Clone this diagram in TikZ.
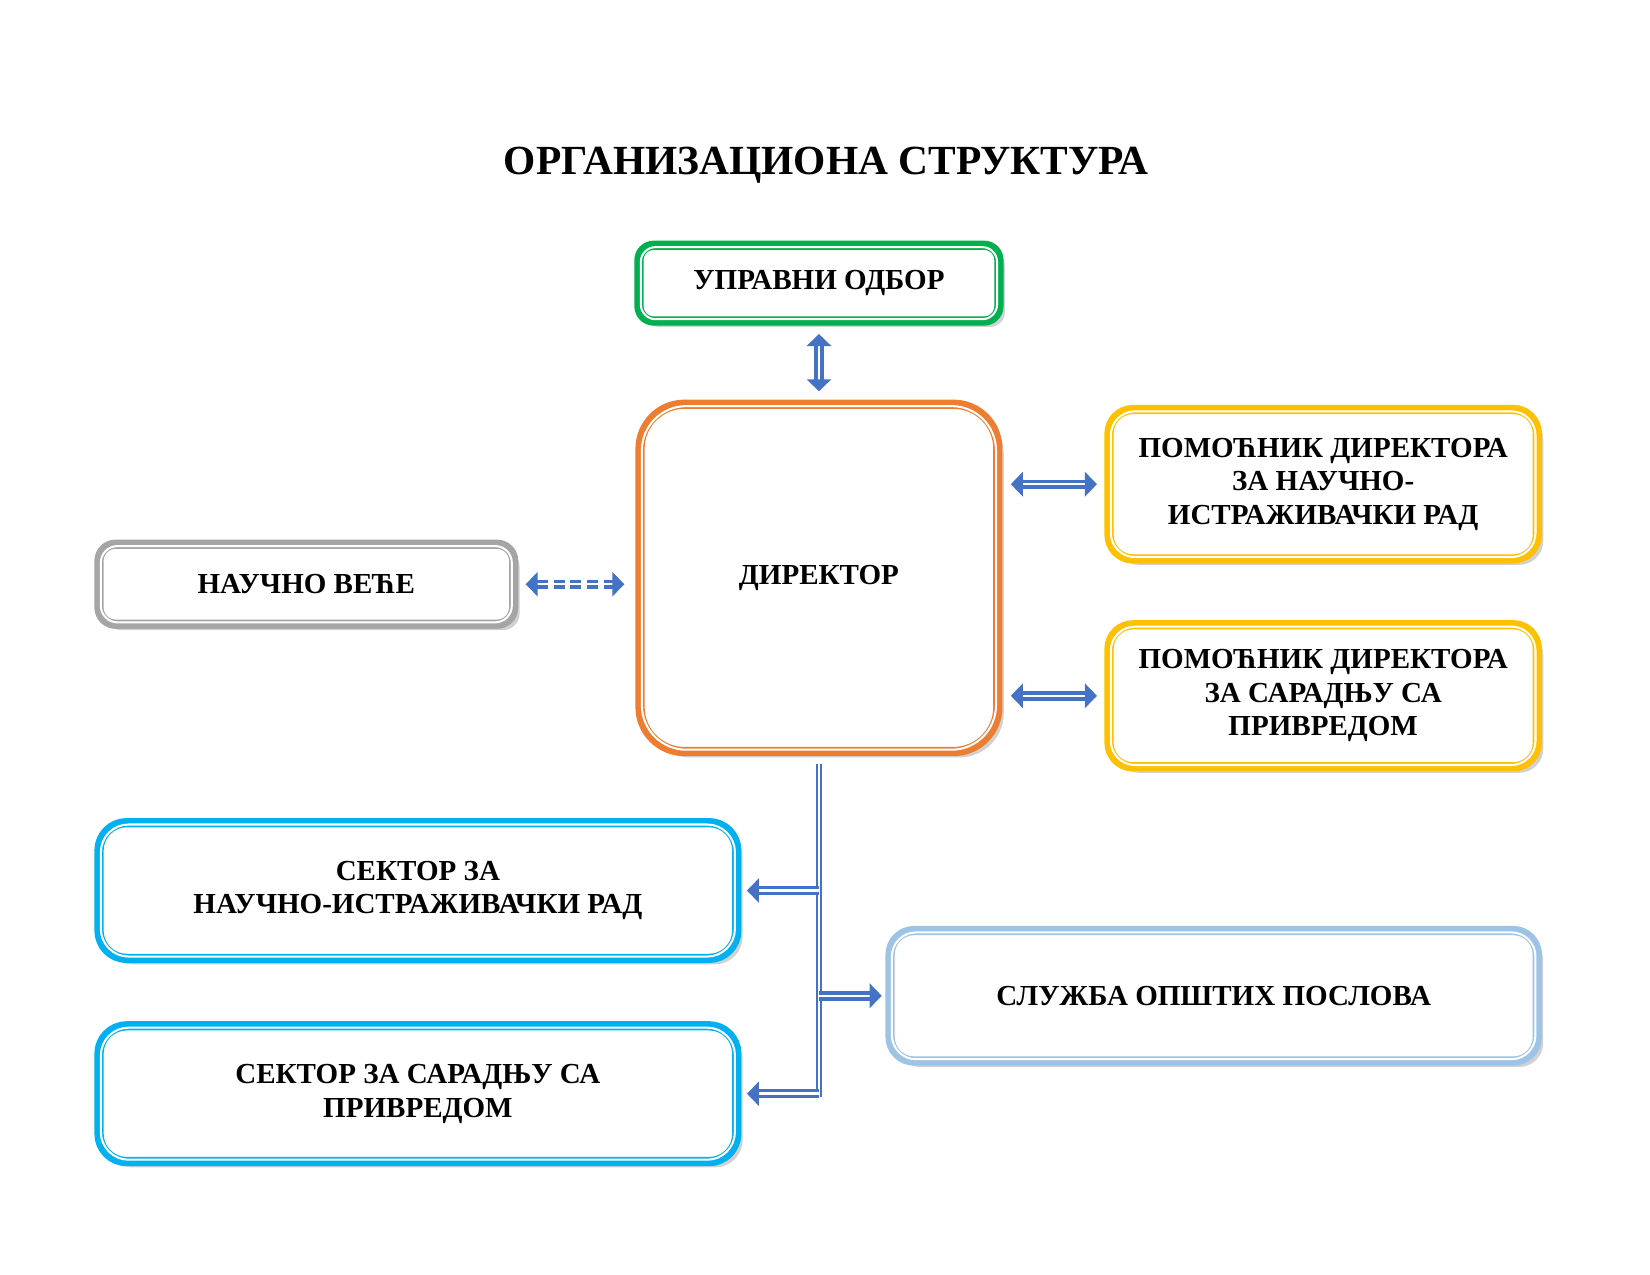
\documentclass[tikz,border=0pt]{standalone}
\usepackage{fontspec}
\setmainfont{Liberation Serif}
\usetikzlibrary{arrows.meta,shadows}

\definecolor{boardgreen}{HTML}{00B050}
\definecolor{dirorange}{HTML}{ED7D31}
\definecolor{asstgold}{HTML}{FFC000}
\definecolor{councilgray}{HTML}{A5A5A5}
\definecolor{sectorcyan}{HTML}{00B0F0}
\definecolor{servblue}{HTML}{9DC3E6}
\definecolor{linkblue}{HTML}{4472C4}

\begin{document}
\begin{tikzpicture}[x=0.02cm,y=-0.02cm,
  unit/.style 2 args={rectangle,draw=#1,line width=5pt,fill=white,
    rounded corners=#2,outer sep=0pt,inner sep=0pt,align=center,
    font=\bfseries\fontsize{15.7}{18.2}\selectfont,
    drop shadow={shadow xshift=3.2pt,shadow yshift=-3.2pt,fill=black!45,opacity=.4}},
  link/.style={draw=linkblue,line width=1.9pt,double=white,double distance=1.3pt},
  tip/.tip={Triangle[length=6.5pt,width=13pt]}]
\useasboundingbox (0,0) rectangle (1567.5,1211.25);

\node[font=\bfseries\fontsize{22.4}{26}\selectfont] (title) at (785,157) {ОРГАНИЗАЦИОНА СТРУКТУРА};

\node[unit={boardgreen}{8pt},minimum width=6.84cm,minimum height=1.44cm] (board) at (778,269) {УПРАВНИ ОДБОР};
\node[unit={dirorange}{24pt},minimum width=6.8cm,minimum height=6.6cm] (dir) at (778,549) {ДИРЕКТОР};
\node[unit={asstgold}{13pt},minimum width=8.14cm,minimum height=2.84cm] (asst1) at (1257,460)
  {ПОМОЋНИК ДИРЕКТОРА\\ЗА НАУЧНО-\\ИСТРАЖИВАЧКИ РАД};
\node[unit={asstgold}{13pt},minimum width=8.14cm,minimum height=2.7cm] (asst2) at (1257,661)
  {ПОМОЋНИК ДИРЕКТОРА\\ЗА САРАДЊУ СА\\ПРИВРЕДОМ};
\node[unit={councilgray}{9pt},minimum width=7.88cm,minimum height=1.52cm] (council) at (291,555) {НАУЧНО ВЕЋЕ};
\node[unit={sectorcyan}{15pt},minimum width=12.12cm,minimum height=2.58cm] (sec1) at (397,846)
  {СЕКТОР ЗА\\НАУЧНО-ИСТРАЖИВАЧКИ РАД};
\node[unit={sectorcyan}{15pt},minimum width=12.12cm,minimum height=2.58cm] (sec2) at (397,1039)
  {СЕКТОР ЗА САРАДЊУ СА\\ПРИВРЕДОМ};
\node[unit={servblue}{13pt},minimum width=12.3cm,minimum height=2.48cm] (serv) at (1153,946) {СЛУЖБА ОПШТИХ ПОСЛОВА};

% inner white line of each frame
\foreach \n/\r in {board/8pt,dir/24pt,asst1/13pt,asst2/13pt,council/9pt,sec1/15pt,sec2/15pt,serv/13pt}
  \draw[white,line width=1.1pt,rounded corners=\r]
    ([shift={(1pt,-1pt)}]\n.north west) rectangle ([shift={(-1pt,1pt)}]\n.south east);

% connectors
\draw[link,tip-tip,shorten <=7pt,shorten >=7pt] (board) -- (dir);
\draw[link,tip-tip,shorten <=7pt,shorten >=6.5pt] (dir.east |- asst1.west) -- (asst1.west);
\draw[link,tip-tip,shorten <=7pt,shorten >=6.5pt] (dir.east |- asst2.west) -- (asst2.west);
\draw[link,dash pattern=on 6pt off 3pt,tip-tip,shorten <=6.5pt,shorten >=8.5pt] (council.east) -- (council.east -| dir.west);

\coordinate (trunkend) at ([yshift=-2pt]dir.south |- sec2.east);
\draw[link,line width=1.2pt,shorten <=6.5pt] (dir.south) -- (trunkend);
\draw[link,-tip,shorten >=5.5pt] (dir.south |- sec1.east) -- (sec1.east);
\draw[link,-tip,shorten >=4.5pt] (dir.south |- serv.west) -- (serv.west);
\draw[link,-tip,shorten >=5.5pt] (dir.south |- sec2.east) -- (sec2.east);
\end{tikzpicture}
\end{document}
